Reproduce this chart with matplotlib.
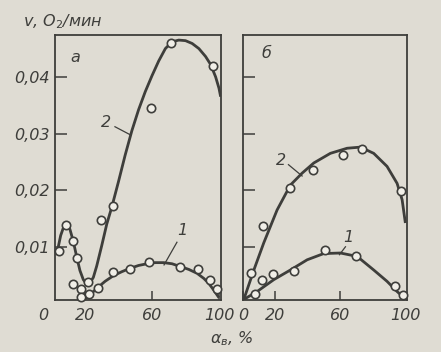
import matplotlib
matplotlib.use('Agg')
import matplotlib.pyplot as plt

# ── data ──
# panel a: measured points
a_x2 = [4.5, 8.5, 13.0, 15.5, 21.8, 29.3, 36.6, 59.4, 71.3, 96.6]
a_y2 = [0.0093, 0.0139, 0.0111, 0.0080, 0.0037, 0.0147, 0.0172, 0.0345, 0.0460, 0.0419]
a_x1 = [13.0, 17.6, 17.4, 22.6, 27.9, 36.9, 46.8, 58.4, 76.7, 87.3, 94.6, 99.0]
a_y1 = [0.0035, 0.0025, 0.0011, 0.0017, 0.0027, 0.0055, 0.0061, 0.0073, 0.0065, 0.0061, 0.0042, 0.0025]
# panel a: drawn curves
a_cx2 = [3.5, 5.5, 7.5, 9, 11, 13, 15, 17, 19, 21, 23, 25, 27, 30, 33, 36, 40, 44, 48,
         52, 56, 60, 64, 68, 72, 76, 80, 84, 88, 92, 95, 98, 100, 101]
a_cy2 = [0.0092, 0.0120, 0.0137, 0.0140, 0.0131, 0.0110, 0.0083, 0.0058, 0.0042, 0.0034,
         0.0036, 0.0046, 0.0066, 0.0102, 0.0140, 0.0170, 0.0215, 0.0262, 0.0305,
         0.0342, 0.0374, 0.0402, 0.0428, 0.0450, 0.0462, 0.0465, 0.0464, 0.0459,
         0.0450, 0.0436, 0.0422, 0.0400, 0.0380, 0.0365]
a_cx1 = [18.5, 21, 24, 28, 32, 37, 42, 47, 52, 57, 62, 67, 72, 77, 82, 87, 91, 94, 97, 100]
a_cy1 = [0.0007, 0.0010, 0.0018, 0.0029, 0.0039, 0.0049, 0.0056, 0.0062, 0.0067, 0.0070,
         0.0072, 0.0072, 0.0070, 0.0065, 0.0060, 0.0053, 0.0044, 0.0035, 0.0023, 0.0010]

# panel б: measured points
b_x2 = [5.0, 12.4, 28.8, 43.0, 61.7, 73.3, 97.3]
b_y2 = [0.0054, 0.0136, 0.0204, 0.0235, 0.0262, 0.0273, 0.0199]
b_x1 = [7.3, 11.8, 18.6, 31.7, 50.3, 69.8, 93.8, 98.5]
b_y1 = [0.0017, 0.0041, 0.0052, 0.0058, 0.0095, 0.0083, 0.0030, 0.0014]
# panel б: drawn curves
b_cx2 = [0.5, 6.7, 12.8, 21, 29.2, 36.4, 43.6, 53.8, 64.1, 72.3, 80.5, 88.7, 94.9, 98, 100]
b_cy2 = [0.0007, 0.0059, 0.0107, 0.0165, 0.0209, 0.0230, 0.0248, 0.0265, 0.0274, 0.0276,
         0.0265, 0.0242, 0.0212, 0.0183, 0.0142]
b_cx1 = [0.5, 8.7, 19, 29.2, 39.5, 49.7, 60, 70.3, 80.5, 88.7, 94.9, 100]
b_cy1 = [0.0007, 0.0021, 0.0042, 0.0059, 0.0077, 0.0088, 0.0089, 0.0083, 0.0059, 0.0039,
         0.0021, 0.0008]

y_ticks = [0.01, 0.02, 0.03, 0.04]
y_labels = ['0,01', '0,02', '0,03', '0,04']

bg = '#dfdcd3'
ink = '#3e3e3b'
fam = ['Liberation Sans Narrow', 'DejaVu Sans']
plt.rcParams['font.family'] = fam
plt.rcParams['mathtext.fontset'] = 'dejavusans'

fig = plt.figure(figsize=(4.41, 3.52), dpi=100, facecolor=bg)
ax1 = fig.add_axes([0.1247, 0.1477, 0.3764, 0.7529])
ax2 = fig.add_axes([0.551, 0.1477, 0.3719, 0.7529])

txt = dict(color=ink, fontsize=11.5, style='italic')


def draw(ax, cx2, cy2, cx1, cy1, px2, py2, px1, py1):
    ax.set_facecolor(bg)
    ax.plot(cx2, cy2, color=ink, lw=2.0, solid_capstyle='butt', zorder=2)
    ax.plot(cx1, cy1, color=ink, lw=2.0, solid_capstyle='butt', zorder=2)
    for xs, ys in ((px2, py2), (px1, py1)):
        ax.plot(xs, ys, 'o', ms=6, mfc='#f1efe8', mec=ink, mew=1.2, zorder=3, clip_on=False)
    ax.set_ylim(0.0006, 0.0474)
    ax.set_yticks(y_ticks)
    for s in ax.spines.values():
        s.set_color(ink)
        s.set_linewidth(1.3)
    ax.tick_params(axis='y', direction='in', length=8.5, width=1.1, color=ink)
    ax.tick_params(axis='x', direction='in', length=6.5, width=1.1, color=ink, pad=6)


draw(ax1, a_cx2, a_cy2, a_cx1, a_cy1, a_x2, a_y2, a_x1, a_y1)
ax1.set_xlim(2.1, 101.2)
ax1.set_xticks([20, 60, 100])
ax1.set_xticklabels(['20', '60', '100'], **txt)
ax1.set_yticklabels(y_labels, **txt)
# "0" of panel a sits left of the frame
ax1.annotate('0', xy=(-5, 0), xycoords=ax1.get_xaxis_transform(),
             xytext=(0, -6), textcoords='offset points',
             ha='center', va='top', annotation_clip=False, **txt)
ax1.text(14, 0.0434, 'а', ha='center', va='center', **txt)
ax1.text(32.5, 0.0319, '2', ha='center', va='center', **txt)
ax1.plot([37.9, 46.9], [0.0312, 0.0298], color=ink, lw=0.9)
ax1.text(77.8, 0.0128, '1', ha='center', va='center', **txt)
ax1.plot([74.9, 67.2], [0.0108, 0.0068], color=ink, lw=0.9)

draw(ax2, b_cx2, b_cy2, b_cx1, b_cy1, b_x2, b_y2, b_x1, b_y1)
ax2.set_xlim(0, 101)
ax2.set_xticks([0, 20, 60, 100])
ax2.set_xticklabels(['0', '20', '60', '100'], **txt)
ax2.set_yticklabels([])
ax2.text(14.5, 0.0442, 'б', ha='center', va='center', **txt)
ax2.text(23.7, 0.0252, '2', ha='center', va='center', **txt)
ax2.plot([28, 36.4], [0.0245, 0.0225], color=ink, lw=0.9)
ax2.text(65.1, 0.0116, '1', ha='center', va='center', **txt)
ax2.plot([63.1, 59.4], [0.0100, 0.0086], color=ink, lw=0.9)

fig.text(23 / 441, 1 - 22 / 352, r'v, O$_2$/мин', ha='left', va='center', **txt)
fig.text(232 / 441, 1 - 339 / 352, r'$\alpha_{в}$, %', ha='center', va='center', **txt)

fig.savefig('out.png', dpi=100, facecolor=bg)
